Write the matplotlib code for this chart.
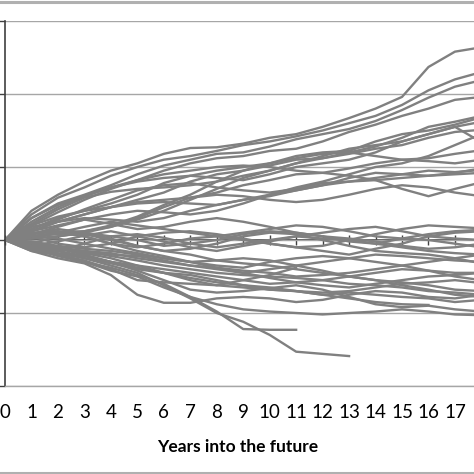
import numpy as np
import matplotlib
matplotlib.use("Agg")
import matplotlib.pyplot as plt
from matplotlib.lines import Line2D

years = list(range(0, 19))
year_labels = [str(y) for y in range(0, 18)]

N = None
# simulated paths (grid units), None where the path stops
upper_paths = [
    [0, .40, .62, .80, .95, 1.05, 1.18, 1.26, 1.27, 1.32, 1.40, 1.45, 1.55, 1.67, 1.80, 1.96, 2.37, 2.58, 2.64],
    [0, .35, .58, .72, .88, 1.00, 1.10, 1.15, 1.22, 1.30, 1.35, 1.42, 1.50, 1.60, 1.70, 1.85, 2.05, 2.20, 2.30],
    [0, .30, .50, .62, .75, .90, 1.02, 1.10, 1.18, 1.20, 1.28, 1.38, 1.45, 1.52, 1.63, 1.78, 1.95, 2.10, 2.19],
    [0, .20, .38, .55, .70, .82, .95, 1.05, 1.12, 1.15, 1.22, 1.25, 1.35, 1.48, 1.58, 1.70, 1.80, 1.92, 1.96],
    [0, .25, .45, .60, .72, .80, .85, .88, .85, .82, .90, 1.00, 1.05, 1.10, 1.20, 1.35, 1.45, 1.55, 1.62],
    [0, .15, .30, .40, .50, .62, .78, .88, .95, 1.00, 1.05, 1.15, 1.20, 1.22, 1.35, 1.45, 1.50, 1.58, 1.68],
    [0, .18, .25, .35, .45, .55, .65, .80, .90, .95, 1.02, 1.10, 1.12, 1.18, 1.25, 1.30, 1.40, 1.48, 1.51],
    [0, .05, .10, .12, .18, .28, .40, .55, .70, .85, .95, 1.05, 1.15, 1.25, 1.30, 1.35, 1.45, 1.55, 1.34],
    [0, .30, .48, .60, .72, .82, .90, .95, 1.00, 1.02, 1.00, .95, .92, .98, 1.05, 1.10, 1.12, 1.18, 1.23],
    [0, .05, .08, .12, .20, .32, .48, .62, .80, .95, 1.05, 1.12, 1.18, 1.20, 1.15, 1.10, 1.08, 1.05, 1.10],
    [0, .15, .28, .42, .55, .68, .75, .78, .72, .68, .65, .70, .78, .80, .85, .90, .95, .93, .96],
    [0, .02, .05, .10, .18, .30, .45, .58, .65, .75, .82, .90, .92, .88, .82, .70, .60, .70, .79],
    [0, .12, .25, .35, .45, .52, .55, .58, .62, .60, .55, .52, .55, .62, .70, .75, .72, .65, .60],
    [0, .20, .32, .40, .45, .50, .52, .50, .48, .55, .62, .68, .75, .80, .82, .85, .88, .90, .92],
    [0, .22, .42, .58, .66, .70, .72, .75, .80, .88, .95, 1.05, 1.12, 1.20, 1.28, 1.40, 1.55, 1.62, 1.70],
    [0, .12, .25, .30, .28, .25, .30, .40, .48, .55, .60, .68, .75, .85, .92, .90, .88, .92, .98],
    [0, .08, .18, .28, .35, .40, .38, .35, .40, .50, .62, .72, .80, .90, 1.00, 1.05, 1.15, 1.30, 1.45],
]
middle_paths = [
    [0, .10, .12, .05, -.05, -.10, -.05, .02, .05, .10, .15, .20, .18, .12, .05, .02, .00, -.05, -.10],
    [0, -.05, .05, .10, .05, .00, -.08, -.05, .00, .08, .12, .10, .05, -.02, -.05, .02, .08, .12, .14],
    [0, .05, -.05, -.10, -.05, .05, .10, .12, .08, .02, -.05, -.10, -.15, -.20, -.12, -.05, .05, .10, .12],
    [0, -.10, -.15, -.05, .05, .08, .03, -.05, -.10, -.05, .00, .05, .02, .00, -.05, -.10, -.15, -.18, -.20],
    [0, .08, .15, .10, .02, -.08, -.15, -.12, -.05, .05, .10, .08, .00, -.08, -.15, -.18, -.20, -.25, -.32],
    [0, -.08, -.02, .06, .12, .05, -.02, -.10, -.15, -.08, -.02, .05, .10, .15, .18, .12, .05, .02, .00],
    [0, .02, .10, .18, .25, .20, .15, .10, .05, .00, -.05, -.10, -.08, .00, .08, .15, .20, .18, .16],
    [0, .12, .20, .28, .22, .15, .18, .25, .30, .25, .18, .10, .05, .02, -.02, -.08, -.12, -.10, -.05],
]
lower_paths = [
    [0, -.05, -.12, -.20, -.30, -.35, -.40, -.45, -.50, -.55, -.60, -.58, -.55, -.50, -.45, -.40, -.42, -.45, -.45],
    [0, -.10, -.18, -.25, -.32, -.40, -.45, -.48, -.55, -.62, -.68, -.70, -.72, -.70, -.65, -.60, -.58, -.55, -.59],
    [0, -.12, -.20, -.28, -.40, -.55, -.58, -.60, -.62, -.65, -.68, -.70, -.75, -.72, -.75, -.78, -.80, -.85, -.82],
    [0, -.15, -.25, -.32, -.48, -.75, -.86, -.86, -.80, -.78, -.80, -.85, -.82, -.75, -.70, -.72, -.78, -.80, -.75],
    [0, -.12, -.22, -.30, -.42, -.50, -.65, -.78, -.88, -.95, -.98, -1.00, -1.02, -1.00, -.98, -.95, -.98, -1.02, -1.03],
    [0, -.10, -.20, -.30, -.38, -.48, -.60, -.78, -.98, -1.22, -1.23, -1.23, N, N, N, N, N, N, N],
    [0, -.08, -.15, -.25, -.35, -.45, -.62, -.80, -1.00, -1.12, -1.30, -1.53, -1.56, -1.59, N, N, N, N, N],
    [0, -.05, -.10, -.18, -.25, -.35, -.45, -.55, -.62, -.55, -.48, -.38, N, N, N, N, N, N, N],
    [0, -.08, -.15, -.22, -.30, -.38, -.45, -.52, -.58, -.62, -.65, -.70, -.75, -.80, -.85, -.88, -.89, N, N],
    [0, -.05, -.10, -.15, -.22, -.28, -.35, -.40, -.45, -.48, -.50, -.52, -.55, -.60, -.62, -.65, -.70, -.72, -.75],
    [0, -.02, -.08, -.12, -.15, -.20, -.25, -.30, -.35, -.38, -.30, -.25, -.22, -.25, -.30, -.35, -.42, -.50, -.55],
    [0, .05, .02, -.05, -.12, -.18, -.25, -.30, -.28, -.25, -.28, -.35, -.42, -.50, -.55, -.58, -.62, -.68, -.70],
    [0, -.03, -.10, -.18, -.20, -.22, -.28, -.35, -.40, -.45, -.40, -.35, -.30, -.25, -.20, -.22, -.25, -.28, -.30],
    [0, .05, .10, .05, -.05, -.15, -.22, -.30, -.38, -.45, -.52, -.58, -.62, -.65, -.60, -.55, -.50, -.48, -.45],
    [0, -.08, -.12, -.15, -.18, -.25, -.30, -.35, -.38, -.42, -.45, -.50, -.48, -.45, -.40, -.35, -.30, -.25, -.20],
    [0, .08, .12, .08, .00, -.08, -.15, -.20, -.28, -.32, -.35, -.40, -.45, -.50, -.55, -.62, -.68, -.75, -.78],
    [0, -.15, -.20, -.22, -.30, -.42, -.55, -.68, -.72, -.70, -.66, -.62, -.68, -.78, -.88, -.92, -.90, -.95, -.98],
]

grid_levels = [-2, -1, 0, 1, 2, 3]

plt.rcParams['font.family'] = ['Lato', 'DejaVu Sans']
fig = plt.figure(figsize=(4.74, 4.74), dpi=100)
ax = fig.add_axes([5/474, (474-386)/474, 1 - 5/474, (386-21)/474])

line_color = '#808080'
for group in (upper_paths, middle_paths, lower_paths):
    for p in group:
        y = np.array([np.nan if v is None else v for v in p], dtype=float)
        ax.plot(years, y, color=line_color, lw=1.7, solid_joinstyle='round', zorder=2)

ax.set_xlim(0, 17.72)
ax.set_ylim(-2, 3)
ax.set_yticks(grid_levels)
ax.set_yticklabels([])
ax.grid(axis='y', color='#a6a6a6', lw=1.0, zorder=0)
ax.set_axisbelow(True)

ax.set_xticks(range(0, 18))
ax.set_xticklabels(year_labels, fontsize=13.5)
ax.tick_params(axis='x', length=0, pad=13, colors='#000000')
ax.tick_params(axis='y', direction='out', length=5, width=1.0, color='#404040')

for s in ('top', 'right'):
    ax.spines[s].set_visible(False)
ax.spines['bottom'].set_color('#a6a6a6')
ax.spines['bottom'].set_linewidth(1.0)
ax.spines['left'].set_color('#404040')
ax.spines['left'].set_linewidth(1.2)

# zero axis with cross ticks
sec = ax.secondary_xaxis(0.4)
sec.set_xticks(range(0, 18))
sec.set_xticklabels([])
sec.tick_params(axis='x', direction='inout', length=7, width=1.0, color='#404040')
sec.spines['bottom'].set_color('#404040')
sec.spines['bottom'].set_linewidth(1.2)

ax.set_xlabel('Years into the future', fontsize=12.5, fontweight='bold')
ax.xaxis.set_label_coords(0.497, -0.145)

fig.add_artist(Line2D([0, 1], [1 - 1.5/474, 1 - 1.5/474], transform=fig.transFigure, color='#b0b0b0', lw=2.2))
fig.add_artist(Line2D([0, 1], [1.5/474, 1.5/474], transform=fig.transFigure, color='#b0b0b0', lw=2.2))

fig.savefig('out.png', dpi=100)
